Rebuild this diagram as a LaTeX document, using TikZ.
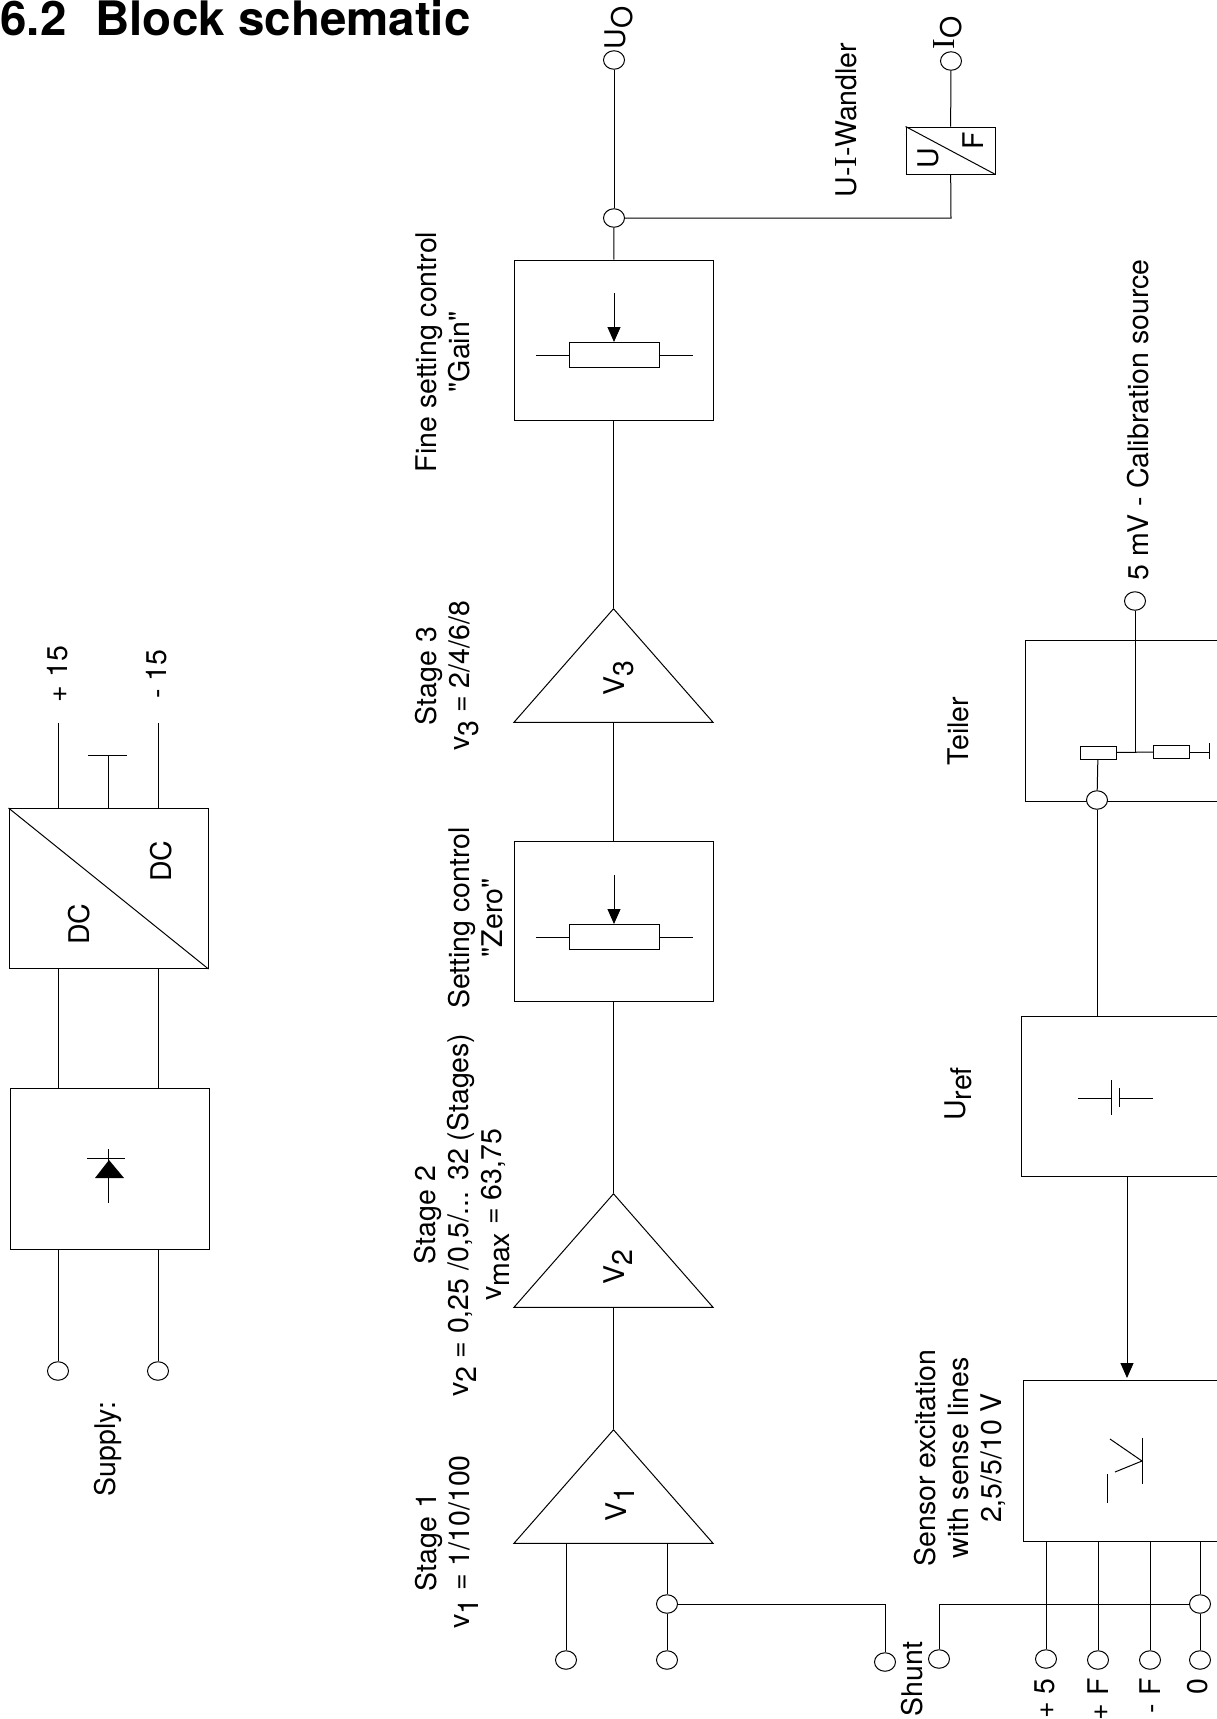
\documentclass[tikz,border=0pt]{standalone}
\usepackage{fontspec}
\newfontfamily\helv{TeX Gyre Heros}
\newfontfamily\serifI{Liberation Serif}
\usepackage{tikz}
\usetikzlibrary{shapes, arrows.meta, positioning}
\newcommand{\lowr}[2][0.3em]{\raisebox{-#1}{#2}}
\newcommand{\bigI}{{\serifI\fontsize{32}{33}\selectfont I}}

\begin{document}
\begin{tikzpicture}[x=1pt, y=-1pt, line width=1pt,
    every node/.style={font=\helv\fontsize{28.5}{33}\selectfont, inner sep=0pt},
    label/.style={rotate=90, align=center},
    terminal/.style={draw, fill=white, ellipse, minimum width=21pt, minimum height=18.5pt},
    blockbox/.style={draw, minimum width=199pt, minimum height=160pt},
    resistor/.style={draw, fill=white, minimum width=90pt, minimum height=25pt},
    smallres/.style={draw, fill=white, minimum width=36pt, minimum height=13pt},
    amp/.style={draw, isosceles triangle, isosceles triangle apex angle=82, shape border rotate=90, isosceles triangle stretches, minimum width=199pt, minimum height=113.5pt, anchor=apex},
    tip/.style={-{Triangle[length=15pt, width=13pt]}}]
    \path[use as bounding box, clip] (0,0) rectangle (1217,1719);

    \node[anchor=base west, font=\helv\fontsize{47.5}{50}\selectfont\bfseries] (title) at (0,35) {6.2\hspace{29pt}Block schematic};

    \node[blockbox] (fineBox) at (613.5,340) {};
    \node[blockbox] (zeroBox) at (613.5,921.5) {};
    \node[amp] (ampThree) at (613.5,608) {};
    \node[amp] (ampTwo) at (613.5,1193) {};
    \node[amp] (ampOne) at (613.5,1429) {};
    \node[resistor] (fineRes) at (614,355) {};
    \node[resistor] (zeroRes) at (614,937) {};
    \coordinate (fineArrow) at (614,293);
    \coordinate (zeroArrow) at (614,875);
    \coordinate (fineL) at (536,355);
    \coordinate (fineR) at (693,355);
    \coordinate (zeroL) at (536,937);
    \coordinate (zeroR) at (693,937);
    \draw[tip] (fineArrow) -- (fineRes.north);
    \draw[tip] (zeroArrow) -- (zeroRes.north);
    \draw (fineL) -- (fineRes) -- (fineR);
    \draw (zeroL) -- (zeroRes) -- (zeroR);

    \node[terminal] (uOut) at (614,60) {};
    \node[terminal] (uSplit) at (614,218) {};
    \node[terminal] (iOut) at (951,61) {};
    \node[draw, minimum width=89pt, minimum height=47pt] (uiBox) at (950.5,150.5) {};
    \coordinate (uiCorner) at (951,218);
    \draw (uiBox.north west) -- (uiBox.south east);
    \draw (uOut) -- (uSplit);
    \draw (uSplit) -- (fineBox);
    \draw (fineBox) -- (ampThree.apex);
    \draw (ampThree.lower side) -- (zeroBox);
    \draw (zeroBox) -- (ampTwo.apex);
    \draw (ampTwo.lower side) -- (ampOne.apex);
    \draw (uSplit) -- (uiCorner) -- (uiBox);
    \draw (uiBox) -- (iOut);

    \node[terminal] (inA) at (566,1660) {};
    \node[terminal] (inB) at (667,1660) {};
    \node[terminal] (inSplit) at (667,1604) {};
    \node[terminal] (shuntA) at (885,1662) {};
    \node[terminal] (shuntB) at (939,1659) {};
    \coordinate (shuntAc) at (885,1604);
    \coordinate (shuntBc) at (939,1604);
    \draw (inA) -- (inA |- ampOne.lower side);
    \draw (inB) -- (inSplit) -- (inB |- ampOne.lower side);
    \draw (inSplit) -- (shuntAc) -- (shuntA);

    \node[draw, minimum width=199pt, minimum height=161pt] (sensorBox) at (1122.5,1460.5) {};
    \node[draw, minimum width=199pt, minimum height=160pt] (urefBox) at (1120.5,1096) {};
    \node[draw, minimum width=199pt, minimum height=161pt] (teilerBox) at (1124.5,720.5) {};
    \node[terminal] (plusFive) at (1046,1659) {};
    \node[terminal] (plusF) at (1098,1660) {};
    \node[terminal] (minusF) at (1150,1660) {};
    \node[terminal] (zeroOut) at (1200,1660) {};
    \node[terminal] (zeroSplit) at (1200,1604) {};
    \draw (plusFive) -- (plusFive |- sensorBox.south);
    \draw (plusF) -- (plusF |- sensorBox.south);
    \draw (minusF) -- (minusF |- sensorBox.south);
    \draw (zeroOut) -- (zeroSplit) -- (zeroSplit |- sensorBox.south);
    \draw (zeroSplit) -- (shuntBc) -- (shuntB);

    \node[terminal] (calOut) at (1135,601) {};
    \node[smallres] (resLeft) at (1098,752.5) {};
    \node[smallres] (resRight) at (1171.5,752) {};
    \coordinate (teilerMid) at (1135,752);
    \coordinate (gndStub) at (1209,752);
    \coordinate (gndA) at (1209,743);
    \coordinate (gndB) at (1209,759);
    \node[terminal] (teilerIn) at (1097,800) {};
    \draw (calOut) -- (teilerMid);
    \draw (resLeft) -- (resRight);
    \draw (resRight) -- (gndStub);
    \draw (gndA) -- (gndB);
    \draw (resLeft) -- (teilerIn);
    \draw (teilerIn) -- (teilerIn |- urefBox.north);
    \coordinate (urefOut) at (1127,1176);
    \coordinate (sensorIn) at (1127,1378);
    \draw[tip] (urefOut) -- (sensorIn);

    \coordinate (batA) at (1078,1098);
    \coordinate (batB) at (1111,1098);
    \coordinate (batC) at (1119,1098);
    \coordinate (batD) at (1153,1098);
    \draw (batA) -- (batB) (batC) -- (batD);
    \draw (1111,1080) -- (1111,1115);
    \draw (1119,1088) -- (1119,1107);

    \draw (1142,1438) -- (1142,1484);
    \draw (1110,1439) -- (1142,1461) -- (1115,1472);
    \draw (1107,1474) -- (1107,1503);

    \node[blockbox] (dcBox) at (108.5,888.5) {};
    \node[blockbox, minimum height=161pt] (rectBox) at (110,1168.5) {};
    \node[terminal] (supA) at (58,1371) {};
    \node[terminal] (supB) at (158,1371) {};
    \coordinate (plusEnd) at (58.5,723);
    \coordinate (minusEnd) at (158,723);
    \coordinate (gndEnd) at (108,755);
    \coordinate (gndBarA) at (88,755);
    \coordinate (gndBarB) at (127,755);
    \draw (dcBox.north west) -- (dcBox.south east);
    \draw (plusEnd) -- (plusEnd |- dcBox.north);
    \draw (minusEnd) -- (minusEnd |- dcBox.north);
    \draw (gndEnd) -- (gndEnd |- dcBox.north);
    \draw (gndBarA) -- (gndBarB);
    \draw (58.5,968.5) -- (58.5,1088);
    \draw (158,968.5) -- (158,1088);
    \draw (supA) -- (supA |- rectBox.south);
    \draw (supB) -- (supB |- rectBox.south);
    \draw (108,1149) -- (108,1203);
    \draw (87,1158) -- (125,1158);
    \fill (109,1160) -- (124,1178) -- (95,1178) -- cycle;

    \node[label] (uOutText) at (618.5,28) {U\lowr[0.25em]{O}};
    \node[label] (iOutText) at (947.5,33) {\bigI\lowr[0.25em]{O}};
    \node[label] (uiText) at (846,120) {U-\bigI-Wandler};
    \node[label] (uText) at (928,158) {U};
    \node[label] (fText) at (973,141) {F};
    \node[label] (fineText) at (443,352) {Fine setting control\\"Gain"};
    \node[label] (threeText) at (447,676) {Stage 3\\v\lowr{3} = 2/4/6/8};
    \node[label] (zeroText) at (476,918) {Setting control\\"Zero"};
    \node[label] (twoText) at (462,1215) {Stage 2\\v\lowr{2} = 0,25 /0,5/... 32 (Stages)\\v\lowr{max} = 63,75};
    \node[label] (oneText) at (447,1542) {Stage 1\\v\lowr{1} = 1/10/100};
    \node[label] (vThree) at (619,678) {V\lowr{3}};
    \node[label] (vTwo) at (618,1267) {V\lowr{2}};
    \node[label] (vOne) at (620,1504) {V\lowr{1}};
    \node[label] (supplyText) at (108,1449) {Supply:};
    \node[label] (plusText) at (58,674) {+ 15};
    \node[label] (minusText) at (157,674) {- 15};
    \node[label] (dcLeft) at (79,924) {DC};
    \node[label] (dcRight) at (161,861) {DC};
    \node[label] (teilerText) at (958,731) {Teiler};
    \node[label] (urefText) at (958,1094) {U\lowr[0.2em]{ref}};
    \node[label] (calText) at (1138,420) {5 mV - Calibration source};
    \node[label] (sensorText) at (960,1458) {Sensor excitation\\with sense lines\\2,5/5/10 V};
    \node[label] (shuntText) at (912,1679) {Shunt};
    \node[label, anchor=east] (plusFiveText) at (1045,1678) {+ 5};
    \node[label, anchor=east] (plusFText) at (1098,1678) {+ F};
    \node[label, anchor=east] (minusFText) at (1150,1678) {- F};
    \node[label, anchor=east] (zeroText2) at (1198,1678) {0};
\end{tikzpicture}
\end{document}
